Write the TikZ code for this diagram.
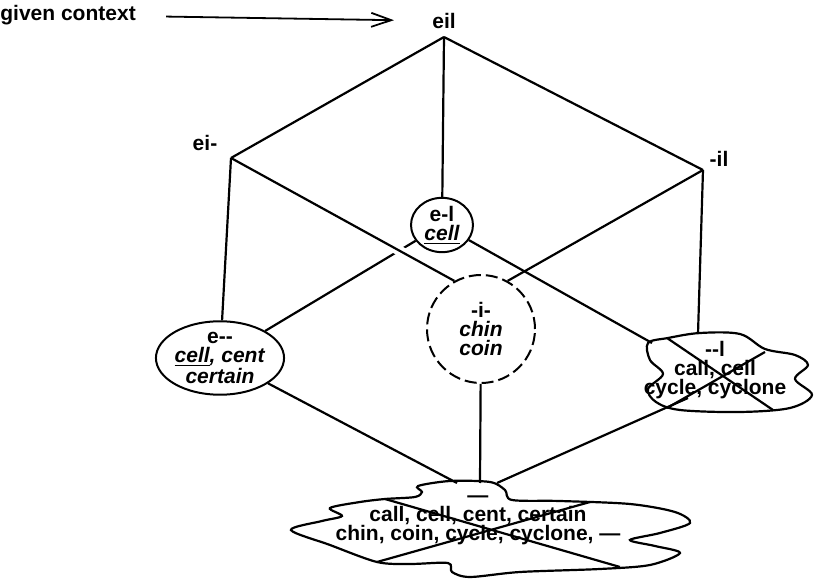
\documentclass[tikz,border=0pt]{standalone}
\usepackage{fontspec}
\setmainfont{Liberation Sans}
\usetikzlibrary{arrows.meta,shapes.geometric,calc,positioning}

\begin{document}
\begin{tikzpicture}[x=0.5pt, y=-0.5pt,
    txt/.style = {align=center, inner sep=0pt, font=\fontsize{10.5}{9.5}\selectfont\bfseries},
    cls/.style = {txt, ellipse, draw, line width=1pt},
    edge/.style = {line width=1.1pt},
    front/.style = {edge, preaction={draw=white, line width=5pt, shorten <=12pt, shorten >=12pt}},
    blob/.style = {line width=1.1pt},
    ctxarrow/.style = {-{Straight Barb[length=10pt,width=7pt]}, line width=0.9pt, shorten <=15pt, shorten >=19pt},
  ]
  \useasboundingbox (0,0) rectangle (816,583);

  % labels of the top corners
  \node [txt, anchor=west] (ctx) at (0,15) {given context};
  \node [txt] (eillab) at (444,21) {eil};
  \node [txt] (eimlab) at (205,143) {ei-};
  \node [txt] (millab) at (719,159) {-il};
  \coordinate (eil) at (444,37);
  \coordinate (eim) at (231,158);
  \coordinate (mil) at (703,170);

  % contexts with their words
  \node [cls, minimum width=31pt, minimum height=27pt] (eml) at (442,225) {e-l\\\textit{\underline{cell}}};
  \node [cls, circle, dashed, dash pattern=on 6pt off 2.5pt, minimum size=54pt] (mim) at (481,329) {-i-\\\textit{chin}\\\textit{coin}};
  \node [cls, minimum width=62pt, minimum height=34pt] (emm) at (220,358) {e{-}{-}\\\textit{\underline{cell}, cent}\\\textit{certain}};
  \node [txt] (mml) at (715,370) {{-}{-}l\\call, cell\\cycle, cyclone};
  \node [txt] (mmm) at (478,520) {---\\call, cell, cent, certain\\chin, coin, cycle, cyclone, ---};

  % clouds
  \draw [blob] plot [smooth cycle, tension=0.55] coordinates {(648,343) (668,338) (700,333) (740,334) (765,349) (795,355) (808,365) (795,379) (812,395) (790,408) (740,412) (680,410) (656,402) (648,389) (663,374) (650,360)};
  \draw [blob] plot [smooth cycle, tension=0.5] coordinates {(291,530) (322,521) (342,516) (330,508) (360,502) (385,499) (415,497) (422,492) (418,486) (450,481) (490,482) (505,490) (512,500) (560,501) (630,504) (675,512) (690,523) (660,533) (630,540) (655,546) (680,553) (650,565) (600,569) (520,572) (470,577) (452,572) (448,563) (410,564) (377,562) (330,545)};

  % crossed out
  \coordinate (llx1) at (667,338);
  \coordinate (llx2) at (773,410);
  \coordinate (llx3) at (765,352);
  \coordinate (llx4) at (667,408);
  \coordinate (bx1) at (385,499);
  \coordinate (bx2) at (620,567);
  \coordinate (bx3) at (377,562);
  \coordinate (bx4) at (590,502);
  \draw [edge] (llx1) -- (llx2) (llx3) -- (llx4);
  \draw [edge] (bx1) -- (bx2) (bx3) -- (bx4);

  % ends on the clouds
  \coordinate (llin) at (652,343);
  \coordinate (lltop) at (698,334);
  \coordinate (llout) at (688,398);
  \coordinate (botl) at (457,483);
  \coordinate (botm) at (480,483);
  \coordinate (botr) at (497,483);

  \draw [ctxarrow] (ctx) -- (eillab);

  \draw [edge] (eil) -- (eim);
  \draw [edge] (eil) -- (mil);
  \draw [edge] (eil) -- (eml);
  \draw [edge] (eim) -- (emm);
  \draw [edge] (eml) -- (emm);
  \draw [edge] (eml) -- (llin);
  \draw [edge] (mil) -- (lltop);
  \draw [edge] (emm) -- (botl);
  \draw [edge] (mim) -- (botm);
  \draw [edge] (llout) -- (botr);
  \draw [front] (eim) -- (mim.119);
  \draw [front] (mil) -- (mim.61);
\end{tikzpicture}
\end{document}
